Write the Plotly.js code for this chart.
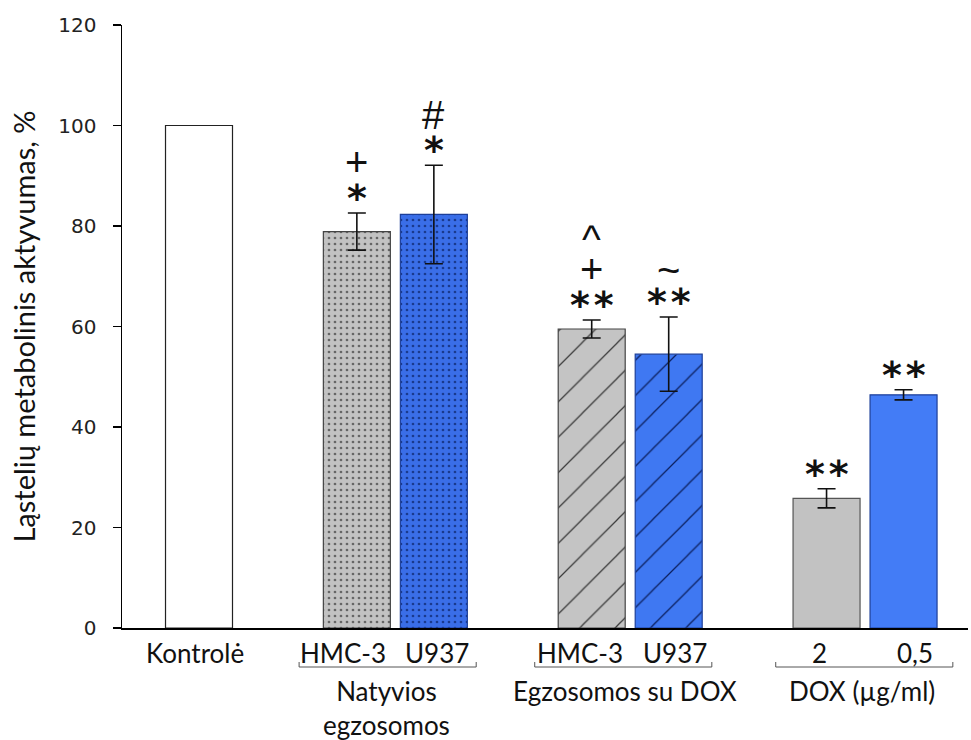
<!DOCTYPE html>
<html><head><meta charset="utf-8">
<script src="https://cdn.plot.ly/plotly-3.0.1.min.js"></script>
<style>html,body{margin:0;padding:0;background:#fff}#c{width:971px;height:740px}</style>
</head><body><div id="c"></div>
<script>
// ---- data ----
const categories = ['Kontrolė', 'Natyvios HMC-3', 'Natyvios U937', 'DOX HMC-3', 'DOX U937', 'DOX 2', 'DOX 0,5'];
const values = [100, 78.9, 82.3, 59.5, 54.5, 25.8, 46.4];
const errors = [null, 3.7, 9.8, 1.8, 7.4, 1.9, 1.0];
const barLabels = ['Kontrolė', 'HMC-3', 'U937', 'HMC-3', 'U937', '2', '0,5'];
const sigRow1 = ['', '*', '*', '**', '**', '**', '**'];
const sigRow2 = ['', '+', '#', '+', '~', '', ''];
const sigRow3 = ['', '', '', '^', '', '', ''];
const groupLabels = ['Natyvios<br>egzosomos', 'Egzosomos su DOX', 'DOX (µg/ml)'];
const yTicks = [0, 20, 40, 60, 80, 100, 120];

// ---- layout / style ----
const pos = [1, 3.05, 4.05, 6.1, 7.1, 9.15, 10.15];
const labelPos = [0.95, 2.87, 4.09, 5.95, 7.18, 9.06, 10.3];
const groupPos = [3.44, 6.53, 9.61];
const brackets = [[2.30, 4.60], [5.36, 7.66], [8.49, 10.79]];
const fills = ['#ffffff', '#c2c2c2', '#3a6ee8', '#c4c4c4', '#3f78f2', '#c2c2c2', '#437cf6'];
const lines = ['#222222', '#444444', '#1d3f99', '#444444', '#1d3f99', '#555555', '#1d3f99'];
const pShape = ['', '.', '.', '/', '/', '', ''];
const pFg = ['#000', '#666666', '#1a3a8e', '#3a3a3a', '#0b1f5e', '#000', '#000'];
const pSize = [8, 6, 6, 25, 25, 8, 8];
const pSol = [0.3, 0.16, 0.16, 0.05, 0.05, 0.3, 0.3];

const traces = values.map((v, i) => ({
  type: 'bar', x: [pos[i]], y: [v], width: 0.87, name: categories[i],
  marker: {
    color: fills[i],
    line: {color: lines[i], width: 1.2},
    pattern: pShape[i] ? {shape: pShape[i], fgcolor: pFg[i], fgopacity: 1, size: pSize[i], solidity: pSol[i], fillmode: 'overlay'} : {shape: ''}
  },
  error_y: errors[i] ? {type: 'data', array: [errors[i]], visible: true, color: '#111', thickness: 1.6, width: 9} : {visible: false},
  hoverinfo: 'skip'
}));

const ann = [];
const symFont = {family: 'Arial, sans-serif', size: 40, color: '#111'};
const astFont = {family: "'DejaVu Sans', sans-serif", size: 38, color: '#111', weight: 'bold'};
const rows = [sigRow1, sigRow2, sigRow3];
const rowShift = [18, 50, 86];
const glyphOff = {'*': 3, '**': 3, '^': 5, '+': -1, '#': 0, '~': 3};
rows.forEach((row, r) => {
  row.forEach((s, i) => {
    if (!s) return;
    const isAst = s.indexOf('*') >= 0;
    ann.push({x: pos[i], y: values[i] + (errors[i] || 0), xref: 'x', yref: 'y', text: isAst ? s.split('').join('\u200a') : s,
      showarrow: false, yanchor: 'middle', xanchor: 'center', yshift: rowShift[r] - (glyphOff[s] || 0),
      font: isAst ? astFont : symFont});
  });
});
const lblFont = {family: 'Lato, sans-serif', size: 26, color: '#111'};
barLabels.forEach((t, i) => {
  ann.push({x: labelPos[i], y: -0.0415, xref: 'x', yref: 'paper', text: t, showarrow: false,
    xanchor: 'center', yanchor: 'middle', font: lblFont});
});
groupLabels.forEach((t, i) => {
  ann.push({x: groupPos[i], y: -0.074, xref: 'x', yref: 'paper', text: t, showarrow: false,
    xanchor: 'center', yanchor: 'top', font: lblFont});
});
const shapes = brackets.map(b => ({
  type: 'path', xref: 'x', yref: 'paper',
  path: `M ${b[0]} -0.0564 L ${b[0]} -0.0647 L ${b[1]} -0.0647 L ${b[1]} -0.0564`,
  line: {color: '#555', width: 1}
}));

const layout = {
  width: 971, height: 740,
  margin: {l: 122, r: 3, t: 25, b: 112},
  paper_bgcolor: '#fff', plot_bgcolor: '#fff',
  showlegend: false, barmode: 'overlay',
  xaxis: {range: [0, 10.987], showticklabels: false, ticks: '', showgrid: false, zeroline: false,
    showline: true, linecolor: '#000', linewidth: 1.5, fixedrange: true},
  yaxis: {range: [0, 120], tickvals: yTicks, ticktext: yTicks.map(String), ticks: 'outside', ticklen: 8,
    tickwidth: 1.5, tickcolor: '#000', showline: true, linecolor: '#000', linewidth: 1.5,
    showgrid: false, zeroline: false, ticklabelstandoff: 12,
    tickfont: {family: "'DejaVu Sans', sans-serif", size: 20, color: '#222'},
    title: {text: 'Ląstelių metabolinis aktyvumas, %', standoff: 14,
      font: {family: 'Lato, sans-serif', size: 29, color: '#111'}}},
  annotations: ann,
  shapes: shapes
};
Plotly.newPlot('c', traces, layout, {staticPlot: true});
</script></body></html>
